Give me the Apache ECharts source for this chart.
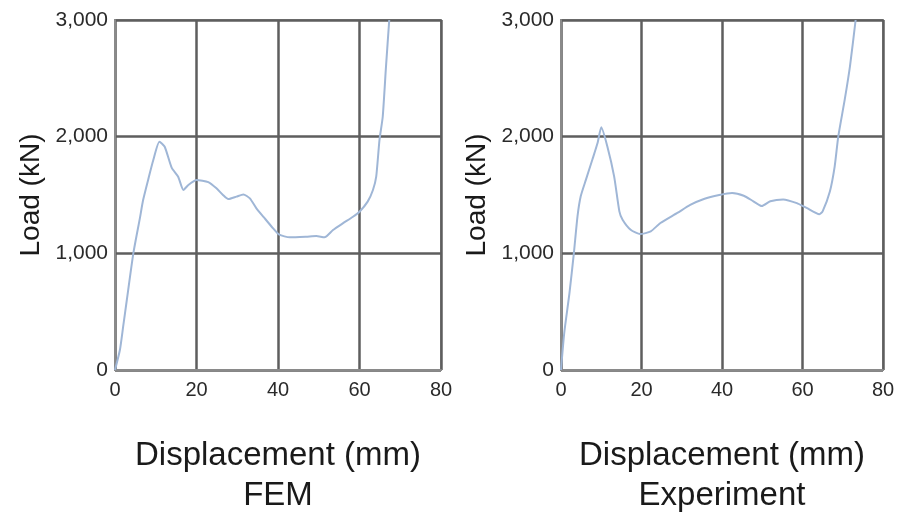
<!DOCTYPE html>
<html>
<head>
<meta charset="utf-8">
<script src="https://cdn.jsdelivr.net/npm/echarts@6/dist/echarts.min.js"></script>
<style>
  html, body { margin: 0; padding: 0; background: #fff; }
  #main { width: 908px; height: 513px; }
</style>
</head>
<body>
<div id="main"></div>
<script>
// FEM curve: displacement (mm) / load (kN)
const femX = [0, 1.2, 2.0, 2.9, 4.5, 6.1, 6.9, 8.2, 9.4, 10.9, 12.2, 13.9, 15.5, 16.8, 18.0, 20.0, 22.9, 24.9, 26.5, 27.8, 29.8, 31.5, 33.1, 34.7, 36.5, 38.8, 40.3, 42.9, 46.9, 49.4, 51.4, 53.5, 55.9, 58.4, 60.0, 62.0, 63.3, 64.1, 64.9, 65.7, 66.5, 67.3];
const femY = [0, 171, 371, 600, 1000, 1300, 1457, 1640, 1800, 1957, 1914, 1735, 1657, 1543, 1586, 1629, 1610, 1557, 1500, 1465, 1486, 1505, 1471, 1386, 1310, 1214, 1160, 1137, 1143, 1149, 1137, 1200, 1257, 1314, 1357, 1443, 1543, 1657, 1971, 2171, 2600, 3000];

// Experiment curve
const expX = [0, 0.8, 2.1, 3.2, 4.1, 4.9, 6.2, 7.8, 9.1, 10.0, 11.5, 13.2, 14.5, 15.3, 17.3, 19.7, 22.3, 24.7, 28.9, 32.1, 35.5, 39.3, 42.5, 45.4, 47.8, 49.9, 52.0, 55.2, 58.6, 61.0, 64.2, 65.0, 66.8, 68.0, 68.9, 70.5, 71.8, 73.2];
const expY = [0, 315, 658, 1002, 1317, 1489, 1632, 1804, 1947, 2080, 1918, 1660, 1360, 1288, 1202, 1165, 1188, 1260, 1346, 1415, 1466, 1500, 1517, 1494, 1446, 1405, 1446, 1462, 1430, 1389, 1335, 1360, 1530, 1746, 2004, 2319, 2605, 3000];

const xTicks = [0, 20, 40, 60, 80];
const yTicks = [0, 1000, 2000, 3000];

const chartDom = document.getElementById('main');
const chart = echarts.init(chartDom, null, { renderer: 'canvas' });

const fontFam = '"Liberation Sans", Arial, Helvetica, sans-serif';
const lineColor = '#9fb6d6';

function makeX(gridIndex, title) {
  return {
    gridIndex: gridIndex,
    type: 'value',
    min: xTicks[0],
    max: xTicks[xTicks.length - 1],
    interval: 20,
    name: 'Displacement (mm)\n' + title,
    nameLocation: 'middle',
    nameGap: 66,
    nameTextStyle: { fontFamily: fontFam, fontSize: 33, color: '#1a1a1a', lineHeight: 40 },
    axisLine: { show: true, lineStyle: { color: '#8a8a8a', width: 2 } },
    axisTick: { show: false },
    axisLabel: { margin: 10, fontFamily: fontFam, fontSize: 20, color: '#2a2a2a' },
    splitLine: { show: true, lineStyle: { color: '#5e5e5e', width: 2.5 } }
  };
}

function makeY(gridIndex) {
  return {
    gridIndex: gridIndex,
    type: 'value',
    min: yTicks[0],
    max: yTicks[yTicks.length - 1],
    interval: 1000,
    name: 'Load (kN)',
    nameLocation: 'middle',
    nameGap: 70,
    nameRotate: 90,
    nameTextStyle: { fontFamily: fontFam, fontSize: 28, color: '#1a1a1a' },
    axisLine: { show: true, lineStyle: { color: '#8a8a8a', width: 2 } },
    axisTick: { show: false },
    axisLabel: {
      margin: 7, fontFamily: fontFam, fontSize: 21, color: '#2a2a2a',
      formatter: v => v.toLocaleString('en-US')
    },
    splitLine: { show: true, lineStyle: { color: '#5e5e5e', width: 2.5 } }
  };
}

const option = {
  backgroundColor: '#ffffff',
  animation: false,
  grid: [
    { left: 115, right: 467, top: 20, bottom: 143, outerBoundsMode: 'none', containLabel: false, show: true, borderColor: '#8a8a8a', borderWidth: 2 },
    { left: 561, right: 25, top: 20, bottom: 143, outerBoundsMode: 'none', containLabel: false, show: true, borderColor: '#8a8a8a', borderWidth: 2 }
  ],
  xAxis: [makeX(0, 'FEM'), makeX(1, 'Experiment')],
  yAxis: [makeY(0), makeY(1)],
  series: [
    {
      name: 'FEM',
      type: 'line',
      xAxisIndex: 0,
      yAxisIndex: 0,
      showSymbol: false,
      smooth: 0.2,
      lineStyle: { color: lineColor, width: 2 },
      data: femX.map((x, i) => [x, femY[i]])
    },
    {
      name: 'Experiment',
      type: 'line',
      xAxisIndex: 1,
      yAxisIndex: 1,
      showSymbol: false,
      smooth: 0.2,
      lineStyle: { color: lineColor, width: 2 },
      data: expX.map((x, i) => [x, expY[i]])
    }
  ]
};

chart.setOption(option);
</script>
</body>
</html>
